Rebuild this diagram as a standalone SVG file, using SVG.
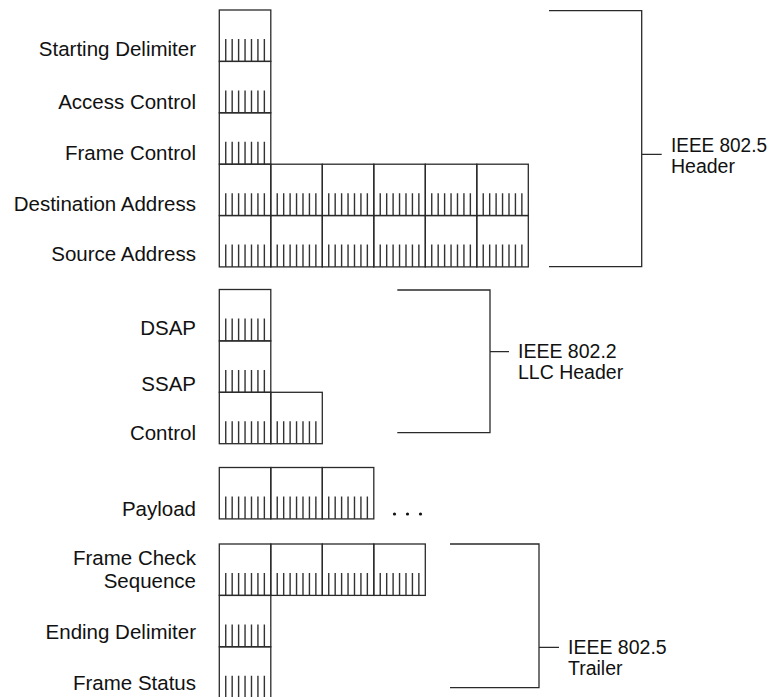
<svg xmlns="http://www.w3.org/2000/svg" xmlns:xlink="http://www.w3.org/1999/xlink" width="770" height="697" viewBox="0 0 770 697">
<style>
.cell{fill:none;stroke:#2a2a2a;stroke-width:1.3}
.tick{stroke:#333;stroke-width:1.4}
.br{fill:none;stroke:#2a2a2a;stroke-width:1.3}
text{font-family:"Liberation Sans",Arial,sans-serif;font-size:20.5px;fill:#111}
.lbl{text-anchor:end}
.rl{font-size:19.5px}
</style>
<defs>
<g id="b">
<rect class="cell" x="0" y="0" width="51.5" height="51.4"/>
<path class="tick" d="M6.44 29V51.4M12.88 29V51.4M19.31 29V51.4M25.75 29V51.4M32.19 29V51.4M38.63 29V51.4M45.06 29V51.4"/>
</g>
</defs>
<rect width="770" height="697" fill="#fff"/>

<g id="starting-delimiter">
<use xlink:href="#b" x="219.3" y="10"/>
<text class="lbl" x="196" y="56">Starting Delimiter</text>
</g>
<g id="access-control">
<use xlink:href="#b" x="219.3" y="61.4"/>
<text class="lbl" x="196" y="108.5">Access Control</text>
</g>
<g id="frame-control">
<use xlink:href="#b" x="219.3" y="112.8"/>
<text class="lbl" x="196" y="160">Frame Control</text>
</g>
<g id="destination-address">
<use xlink:href="#b" x="219.3" y="164.2"/>
<use xlink:href="#b" x="270.8" y="164.2"/>
<use xlink:href="#b" x="322.3" y="164.2"/>
<use xlink:href="#b" x="373.8" y="164.2"/>
<use xlink:href="#b" x="425.3" y="164.2"/>
<use xlink:href="#b" x="476.8" y="164.2"/>
<text class="lbl" x="196" y="211">Destination Address</text>
</g>
<g id="source-address">
<use xlink:href="#b" x="219.3" y="215.5"/>
<use xlink:href="#b" x="270.8" y="215.5"/>
<use xlink:href="#b" x="322.3" y="215.5"/>
<use xlink:href="#b" x="373.8" y="215.5"/>
<use xlink:href="#b" x="425.3" y="215.5"/>
<use xlink:href="#b" x="476.8" y="215.5"/>
<text class="lbl" x="196" y="261">Source Address</text>
</g>

<g id="dsap">
<use xlink:href="#b" x="219.3" y="289.5"/>
<text class="lbl" x="196" y="335">DSAP</text>
</g>
<g id="ssap">
<use xlink:href="#b" x="219.3" y="340.9"/>
<text class="lbl" x="196" y="391">SSAP</text>
</g>
<g id="control">
<use xlink:href="#b" x="219.3" y="392.3"/>
<use xlink:href="#b" x="270.8" y="392.3"/>
<text class="lbl" x="196" y="440">Control</text>
</g>

<g id="payload">
<use xlink:href="#b" x="219.3" y="467.5"/>
<use xlink:href="#b" x="270.8" y="467.5"/>
<use xlink:href="#b" x="322.3" y="467.5"/>
<circle cx="394.5" cy="514" r="1.6" fill="#111"/>
<circle cx="407.5" cy="514" r="1.6" fill="#111"/>
<circle cx="420.5" cy="514" r="1.6" fill="#111"/>
<text class="lbl" x="196" y="516">Payload</text>
</g>

<g id="frame-check-sequence">
<use xlink:href="#b" x="219.3" y="544"/>
<use xlink:href="#b" x="270.8" y="544"/>
<use xlink:href="#b" x="322.3" y="544"/>
<use xlink:href="#b" x="373.8" y="544"/>
<text class="lbl" x="196" y="565">Frame Check</text>
<text class="lbl" x="196" y="588">Sequence</text>
</g>
<g id="ending-delimiter">
<use xlink:href="#b" x="219.3" y="595.4"/>
<text class="lbl" x="196" y="639">Ending Delimiter</text>
</g>
<g id="frame-status">
<use xlink:href="#b" x="219.3" y="646.8"/>
<text class="lbl" x="196" y="690">Frame Status</text>
</g>

<g id="connectors">
<path class="br" d="M549 10.7H641.7V266.7H549M641.7 154.3H661.7"/>
<path class="br" d="M397.3 290H490V432.7H397.3M490 351.7H509"/>
<path class="br" d="M450 544H539V687.7H450M539 647.3H559"/>
</g>

<g id="ieee-802-5-header">
<text class="rl" x="671" y="152" textLength="96" lengthAdjust="spacingAndGlyphs">IEEE 802.5</text>
<text class="rl" x="671" y="172.5">Header</text>
</g>
<g id="ieee-802-2-llc-header">
<text class="rl" x="518" y="358">IEEE 802.2</text>
<text class="rl" x="518" y="378.5">LLC Header</text>
</g>
<g id="ieee-802-5-trailer">
<text class="rl" x="568" y="654">IEEE 802.5</text>
<text class="rl" x="568" y="674.5">Trailer</text>
</g>
</svg>
